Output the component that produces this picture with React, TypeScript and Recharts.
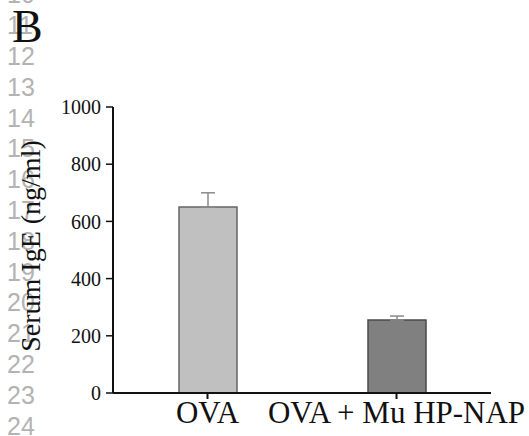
import { BarChart, Bar, XAxis, YAxis, ErrorBar, Cell } from "recharts";

const CATEGORIES = ["OVA", "OVA + Mu HP-NAP"];
const IGE_MEAN = [650, 255];
const IGE_SEM = [50, 14];
const Y_TICKS = [0, 200, 400, 600, 800, 1000];
const LINE_NUMBERS = [10, 11, 12, 13, 14, 15, 16, 17, 18, 19, 20, 21, 22, 23, 24];

const FILLS = ["#c0c0c0", "#808080"];
const STROKES = ["#666666", "#4a4a4a"];

const data = CATEGORIES.map((name, i) => ({
  name,
  ige: IGE_MEAN[i],
  err: [0, IGE_SEM[i]],
}));

const SERIF = "Liberation Serif";

export default function App() {
  return (
    <div
      style={{
        position: "absolute",
        left: 0,
        top: 0,
        width: 529,
        height: 436,
        background: "#fff",
        overflow: "hidden",
      }}
    >
      <svg width={529} height={436} style={{ position: "absolute", left: 0, top: 0 }}>
        {LINE_NUMBERS.map((n) => (
          <text
            key={n}
            x={7}
            y={65 + (n - 12) * 30.8}
            fontFamily="Liberation Sans"
            fontSize={25}
            fill="#b3b3b3"
          >
            {n}
          </text>
        ))}
        <text x={12} y={42} fontFamily={SERIF} fontSize={46} fill="#111">
          B
        </text>
      </svg>

      <div style={{ position: "absolute", left: 0, top: 0 }}>
        <BarChart
          width={529}
          height={436}
          data={data}
          margin={{ top: 107, right: 38, bottom: 0, left: 0 }}
          barSize={58}
        >
          <XAxis
            dataKey="name"
            height={43}
            axisLine={{ stroke: "#111", strokeWidth: 2 }}
            tickLine={{ stroke: "#111", strokeWidth: 2 }}
            tickSize={6}
            tickMargin={2}
            tick={{ fill: "#111", fontSize: 31, fontFamily: SERIF }}
            interval={0}
          />
          <YAxis
            width={113}
            domain={[0, 1000]}
            ticks={Y_TICKS}
            axisLine={{ stroke: "#111", strokeWidth: 2 }}
            tickLine={{ stroke: "#111", strokeWidth: 1.5 }}
            tickSize={7}
            tickMargin={5}
            tick={{ fill: "#111", fontSize: 20, fontFamily: SERIF }}
            label={{
              content: () => (
                <text
                  x={30}
                  y={246}
                  transform="rotate(-90 30 246)"
                  textAnchor="middle"
                  dominantBaseline="central"
                  fontFamily={SERIF}
                  fontSize={28}
                  fill="#111"
                >
                  Serum IgE (ng/ml)
                </text>
              ),
            }}
          />
          <Bar dataKey="ige" isAnimationActive={false} strokeWidth={1.5}>
            {data.map((_, i) => (
              <Cell key={i} fill={FILLS[i]} stroke={STROKES[i]} />
            ))}
            <ErrorBar
              dataKey="err"
              direction="y"
              width={7}
              stroke="#8a8a8a"
              strokeWidth={1.5}
              isAnimationActive={false}
            />
          </Bar>
        </BarChart>
      </div>
    </div>
  );
}
